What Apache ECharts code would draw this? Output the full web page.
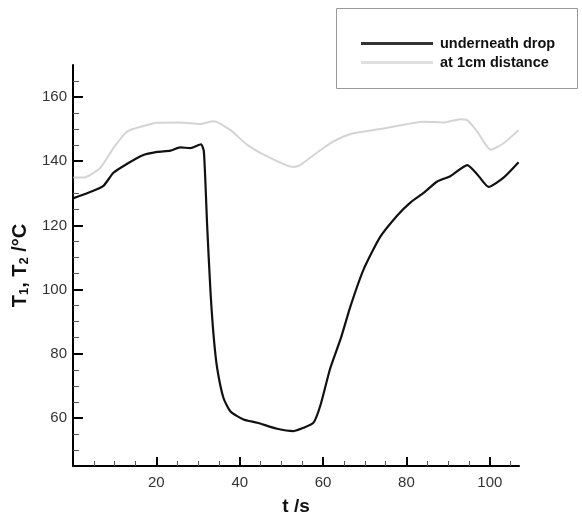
<!DOCTYPE html>
<html><head><meta charset="utf-8">
<script src="https://cdn.jsdelivr.net/npm/echarts@6/dist/echarts.min.js"></script>
<style>html,body{margin:0;padding:0;background:#fff}#c{width:582px;height:521px}</style>
</head><body><div id="c"></div>
<script>
const seriesNames = ['underneath drop', 'at 1cm distance'];
const timeDrop = [0.15,4.9,7.3,9.7,13,16.6,20.2,23.4,25.7,28.1,30.7,31.4,32.2,33,33.8,34.6,36.1,37.8,40.9,44.2,49,52.9,55.3,57.7,59.4,61.7,64.2,66.6,69.7,73.7,77.8,81,84.2,87.3,90.6,94.6,97,99.7,103.3,106.9];
const tempDrop = [128.5,130.8,132.3,136.4,139.2,141.8,142.9,143.3,144.3,144.1,145.3,143,119.5,99,84.6,75.4,66.2,62,59.5,58.5,56.6,55.9,56.9,58.5,64.1,75.4,84.6,94.9,106.2,116.4,123.1,127.2,130.2,133.6,135.4,138.8,135.9,132,134.9,139.7];
const timeDist = [0.15,2.5,6.5,9.7,12.9,16.9,20.2,25.7,30.5,33.7,37.8,41.8,46.6,52.9,54.5,59.4,62.5,67.3,74.5,84.2,89,92.9,94.6,97,100.2,103.3,106.9];
const tempDist = [134.9,134.9,137.9,144.1,149.2,151,152,152.1,151.6,152.5,149.7,145.1,141.5,138.2,138.8,143.5,146.2,148.7,150.2,152.3,152.1,153.1,152.8,149.2,143.6,145.6,149.7];
const xMajorTicks = [20,40,60,80,100];
const xMinorTicks = [5,10,15,25,30,35,45,50,55,65,70,75,85,90,95,105];
const yMajorTicks = [60,80,100,120,140,160];
const yMinorTicks = [50,55,65,70,75,85,90,95,105,110,115,125,130,135,145,150,155,165];

const pair = (a,b) => a.map((t,i)=>[t,b[i]]);
const FONT = 'Liberation Sans, Arial, sans-serif';
const lblStyle = {color:'#333', fontSize:15, fontFamily:FONT};
const chart = echarts.init(document.getElementById('c'), null, {renderer:'canvas'});
const xBase = {type:'value', min:0, max:107, splitLine:{show:false}};
const yBase = {type:'value', min:45, max:170, splitLine:{show:false}};
chart.setOption({
  animation:false,
  grid:{left:73, right:63, top:65, bottom:48},
  xAxis:[
    Object.assign({}, xBase, {
      axisLine:{lineStyle:{color:'#000', width:2}},
      axisTick:{inside:true, length:9, lineStyle:{color:'#000', width:2}, customValues:xMajorTicks},
      axisLabel:Object.assign({margin:9, customValues:xMajorTicks}, lblStyle),
      name:'t /s', nameLocation:'middle', nameGap:31,
      nameTextStyle:{color:'#111', fontSize:19, fontWeight:'bold', fontFamily:FONT}
    }),
    Object.assign({}, xBase, {position:'bottom',
      axisLine:{show:false},
      axisTick:{inside:true, length:5, lineStyle:{color:'#555', width:1}, customValues:xMinorTicks},
      axisLabel:{show:false}
    })
  ],
  yAxis:[
    Object.assign({}, yBase, {
      axisLine:{show:true, lineStyle:{color:'#000', width:2}},
      axisTick:{show:true, inside:true, length:10, lineStyle:{color:'#000', width:2}, customValues:yMajorTicks},
      axisLabel:Object.assign({margin:6, customValues:yMajorTicks}, lblStyle),
      name:'{b|T}{s|1}{b|, T}{s|2}{b| /°C}', nameLocation:'middle', nameGap:41, nameRotate:90,
      nameTextStyle:{color:'#111', fontFamily:FONT,
        rich:{b:{fontSize:20, fontWeight:'bold', color:'#111', fontFamily:FONT},
              s:{fontSize:13, fontWeight:'bold', color:'#111', verticalAlign:'bottom', padding:[8,0,0,0], fontFamily:FONT}}}
    }),
    Object.assign({}, yBase, {position:'left',
      axisLine:{show:false},
      axisTick:{show:true, inside:true, length:6, lineStyle:{color:'#555', width:1}, customValues:yMinorTicks},
      axisLabel:{show:false}
    })
  ],
  legend:{
    orient:'vertical', left:356, top:31, itemWidth:72, itemHeight:3, itemGap:4, icon:'rect',
    data:seriesNames,
    textStyle:{color:'#111', fontSize:14.5, fontWeight:'bold', fontFamily:FONT, padding:[0,0,0,2]}
  },
  graphic:[{type:'rect', shape:{x:336.5, y:8.5, width:241, height:80}, style:{fill:'none', stroke:'#999', lineWidth:1}, z:-1}],
  series:[
    {name:seriesNames[0], type:'line', data:pair(timeDrop,tempDrop), showSymbol:false, smooth:0.2,
     lineStyle:{color:'#111', width:2.2}, itemStyle:{color:'#333'}},
    {name:seriesNames[1], type:'line', data:pair(timeDist,tempDist), showSymbol:false, smooth:0.2,
     lineStyle:{color:'#d4d4d4', width:2}, itemStyle:{color:'#e0e0e0'}}
  ]
});
</script></body></html>
